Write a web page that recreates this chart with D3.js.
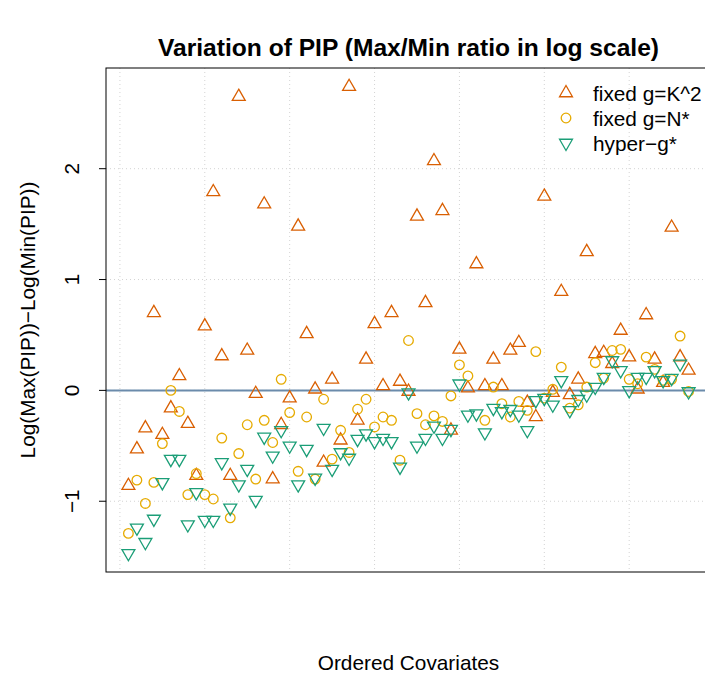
<!DOCTYPE html>
<meta charset="utf-8">
<title>Variation of PIP</title>
<style>
body {
  margin: 0;
  background: #fff;
}
text {
  font-family: "Liberation Sans", Arial, sans-serif;
  fill: #000;
}
</style>
<body>
<script src="https://cdnjs.cloudflare.com/ajax/libs/d3/7.8.5/d3.min.js"></script>
<script>
// log(max PIP) - log(min PIP) per covariate, covariates in plotted order
var fixedK2 = [-0.86, -0.53, -0.34, 0.70, -0.40, -0.16, 0.13, -0.30, -0.77, 0.58,
  1.79, 0.31, -0.77, 2.65, 0.36, -0.03, 1.68, -0.80, -0.31, -0.07,
  1.48, 0.51, 0.01, -0.65, 0.10, -0.45, 2.74, -0.27, 0.28, 0.60,
  0.04, 0.70, 0.08, -0.01, 1.57, 0.79, 2.07, 1.62, -0.36, 0.37,
  0.02, 1.14, 0.04, 0.28, 0.04, 0.36, 0.43, -0.11, -0.24, 1.75,
  -0.02, 0.89, -0.04, 0.10, 1.25, 0.33, 0.34, 0.24, 0.54, 0.30,
  0.01, 0.68, 0.28, 0.07, 1.47, 0.30, 0.18];
var fixedN = [-1.29, -0.81, -1.02, -0.83, -0.48, 0.00, -0.19, -0.94, -0.75, -0.94,
  -0.98, -0.43, -1.15, -0.57, -0.31, -0.80, -0.27, -0.47, 0.10, -0.20,
  -0.73, -0.24, -0.80, -0.08, -0.62, -0.36, -0.56, -0.17, -0.08, -0.33,
  -0.24, -0.27, -0.63, 0.45, -0.21, -0.31, -0.23, -0.28, -0.05, 0.23,
  0.13, null, -0.27, 0.03, -0.12, -0.24, -0.10, -0.18, 0.35, -0.07,
  0.01, 0.21, -0.16, -0.13, 0.03, 0.25, 0.11, 0.36, 0.37, 0.10,
  0.06, 0.30, 0.19, 0.09, 0.10, 0.49, -0.01];
var hyperG = [-1.47, -1.24, -1.37, -1.16, -0.83, -0.62, -0.62, -1.21, -0.92, -1.17,
  -1.17, -0.65, -1.06, -0.85, -0.71, -0.99, -0.42, -0.59, -0.36, -0.50,
  -0.85, -0.53, -0.79, -0.34, -0.71, -0.56, -0.61, -0.44, -0.39, -0.46,
  -0.43, -0.46, -0.69, -0.02, -0.50, -0.43, -0.32, -0.43, -0.35, 0.06,
  -0.22, -0.21, -0.38, -0.16, -0.19, -0.17, -0.22, -0.36, -0.09, -0.07,
  -0.13, 0.09, -0.18, -0.08, -0.04, 0.03, 0.12, 0.27, 0.18, 0.00,
  0.12, 0.12, 0.18, 0.09, 0.11, 0.24, -0.01];

var seriesNames = ["fixed g=K^2", "fixed g=N*", "hyper\u2212g*"];
var seriesColors = ["#d95f02", "#e6ab02", "#1b9e77"];
var seriesShapes = ["up", "circle", "down"];
var yTicks = [-1, 0, 1, 2];
var xGrid = [0, 10, 20, 30, 40, 50, 60];

var w = 705,
    h = 675,
    pLeft = 106,
    pRight = 711,
    pTop = 68,
    pBottom = 572;

var svg = d3.select("body").append("svg")
    .attr("width", w)
    .attr("height", h);

var n = fixedK2.length;
var all = fixedK2.concat(fixedN, hyperG).filter(function(v) { return v != null; });
var ext = d3.extent(all), pad = 0.04 * (ext[1] - ext[0]);

var x = d3.scaleLinear()
    .domain([1 - 0.04 * (n - 1), n + 0.04 * (n - 1)])
    .range([pLeft, pRight]);
var y = d3.scaleLinear()
    .domain([ext[0] - pad, ext[1] + pad])
    .range([pBottom, pTop]);

// dotted grid
svg.append("g").selectAll("line")
    .data(yTicks)
  .enter().append("line")
    .attr("x1", pLeft).attr("x2", pRight)
    .attr("y1", function(d) { return y(d); })
    .attr("y2", function(d) { return y(d); })
    .style("stroke", "#d3d3d3")
    .style("stroke-dasharray", "1,3");
svg.append("g").selectAll("line")
    .data(xGrid)
  .enter().append("line")
    .attr("y1", pTop).attr("y2", pBottom)
    .attr("x1", function(d) { return x(d); })
    .attr("x2", function(d) { return x(d); })
    .style("stroke", "#d3d3d3")
    .style("stroke-dasharray", "1,3");

// zero reference line
svg.append("line")
    .attr("x1", pLeft).attr("x2", pRight)
    .attr("y1", y(0)).attr("y2", y(0))
    .style("stroke", "#6b8bab")
    .style("stroke-width", 2);

var rad = 4.8;
function shapePath(shape) {
  var r = 1.5551 * rad, xc = 1.3468 * rad, yc = 0.7776 * rad;
  if (shape == "up") return "M0," + (-r) + "L" + xc + "," + yc + "L" + (-xc) + "," + yc + "Z";
  if (shape == "down") return "M0," + r + "L" + xc + "," + (-yc) + "L" + (-xc) + "," + (-yc) + "Z";
  return "M" + rad + ",0A" + rad + "," + rad + " 0 1,1 " + (-rad) + ",0A" + rad + "," + rad + " 0 1,1 " + rad + ",0Z";
}

[fixedK2, fixedN, hyperG].forEach(function(vals, k) {
  svg.append("g").selectAll("path")
      .data(vals.map(function(v, i) { return {i: i + 1, v: v}; }).filter(function(d) { return d.v != null; }))
    .enter().append("path")
      .attr("transform", function(d) { return "translate(" + x(d.i) + "," + y(d.v) + ")"; })
      .attr("d", shapePath(seriesShapes[k]))
      .style("fill", "none")
      .style("stroke", seriesColors[k])
      .style("stroke-width", 1.3);
});

// box
svg.append("rect")
    .attr("x", pLeft).attr("y", pTop)
    .attr("width", pRight - pLeft).attr("height", pBottom - pTop)
    .style("fill", "none")
    .style("stroke", "#000")
    .style("stroke-width", 1);

// y axis ticks and rotated labels
var ya = svg.append("g");
ya.selectAll("line")
    .data(yTicks)
  .enter().append("line")
    .attr("x1", pLeft - 7).attr("x2", pLeft)
    .attr("y1", function(d) { return y(d); })
    .attr("y2", function(d) { return y(d); })
    .style("stroke", "#000");
ya.selectAll("text")
    .data(yTicks)
  .enter().append("text")
    .attr("transform", function(d) { return "translate(71," + y(d) + ")rotate(-90)"; })
    .attr("text-anchor", "middle")
    .attr("dominant-baseline", "central")
    .style("font-size", "20.8px")
    .text(function(d) { return d < 0 ? "\u2212" + (-d) : d; });

svg.append("text")
    .attr("transform", "translate(27," + (pTop + pBottom) / 2 + ")rotate(-90)")
    .attr("text-anchor", "middle")
    .attr("dominant-baseline", "central")
    .style("font-size", "20.8px")
    .text("Log(Max(PIP))\u2212Log(Min(PIP))");

svg.append("text")
    .attr("x", (pLeft + pRight) / 2).attr("y", 662)
    .attr("text-anchor", "middle")
    .attr("dominant-baseline", "central")
    .style("font-size", "20.8px")
    .text("Ordered Covariates");

svg.append("text")
    .attr("x", (pLeft + pRight) / 2).attr("y", 47)
    .attr("text-anchor", "middle")
    .attr("dominant-baseline", "central")
    .style("font-size", "24.6px")
    .style("font-weight", "bold")
    .text("Variation of PIP (Max/Min ratio in log scale)");

// legend
var lg = svg.append("g").selectAll("g")
    .data(seriesNames)
  .enter().append("g")
    .attr("transform", function(d, i) { return "translate(566," + (93 + i * 25) + ")"; });
lg.append("path")
    .attr("d", function(d, i) { return shapePath(seriesShapes[i]); })
    .style("fill", "none")
    .style("stroke", function(d, i) { return seriesColors[i]; })
    .style("stroke-width", 1.3);
lg.append("text")
    .attr("x", 27)
    .attr("dominant-baseline", "central")
    .style("font-size", "20.8px")
    .text(function(d) { return d; });
</script>
